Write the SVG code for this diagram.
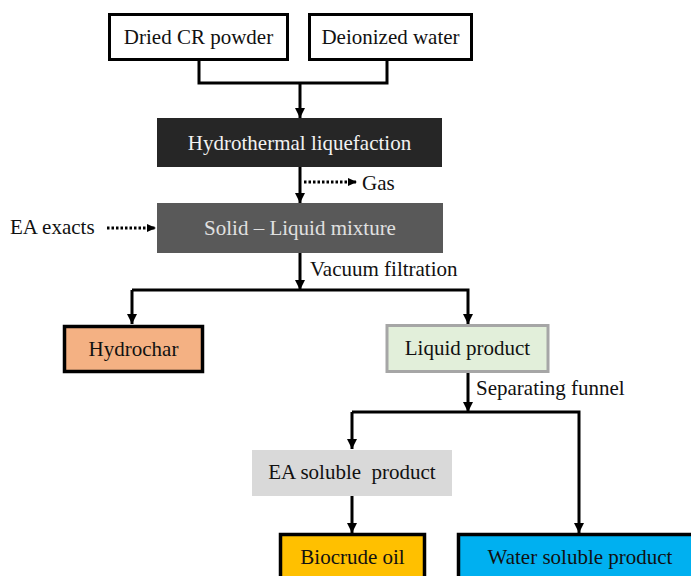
<svg xmlns="http://www.w3.org/2000/svg" width="691" height="576" viewBox="0 0 691 576">
  <style>
    text { font-family: "Liberation Serif", "Times New Roman", serif; font-size: 21px; fill: #111; }
    .c { text-anchor: middle; }
    .conn { fill: none; stroke: #000; stroke-width: 3; }
    .dot { fill: none; stroke: #000; stroke-width: 3; stroke-dasharray: 2.5 2; }
  </style>
  <defs>
    <marker id="ah" markerUnits="userSpaceOnUse" markerWidth="10" markerHeight="11" viewBox="0 0 10 11" refX="10" refY="5.5" orient="auto">
      <path d="M0,0.5 L10,5.5 L0,10.5 z" fill="#000"/>
    </marker>
    <marker id="ahs" markerUnits="userSpaceOnUse" markerWidth="9" markerHeight="9" viewBox="0 0 9 9" refX="9" refY="4.5" orient="auto">
      <path d="M0,0.5 L9,4.5 L0,8.5 z" fill="#000"/>
    </marker>
  </defs>

  <rect width="691" height="576" fill="#fff"/>

  <g id="connectors">
    <polyline class="conn" points="199,60 199,83 387,83 387,60"/>
    <line class="conn" x1="300" y1="83" x2="300" y2="118" marker-end="url(#ah)"/>
    <line class="conn" x1="300" y1="167" x2="300" y2="203" marker-end="url(#ah)"/>
    <line class="dot" x1="304" y1="182" x2="357" y2="182" marker-end="url(#ahs)"/>
    <line class="dot" x1="107" y1="228" x2="156" y2="228" marker-end="url(#ahs)"/>
    <line class="conn" x1="300" y1="253" x2="300" y2="290" marker-end="url(#ah)"/>
    <polyline class="conn" points="132,290 468,290 468,324" marker-end="url(#ah)"/>
    <line class="conn" x1="132" y1="290" x2="132" y2="324" marker-end="url(#ah)"/>
    <line class="conn" x1="468" y1="373" x2="468" y2="412" marker-end="url(#ah)"/>
    <polyline class="conn" points="352,412 579,412 579,533" marker-end="url(#ah)"/>
    <line class="conn" x1="352" y1="412" x2="352" y2="449" marker-end="url(#ah)"/>
    <line class="conn" x1="352" y1="496" x2="352" y2="533" marker-end="url(#ah)"/>
  </g>

  <g id="dried">
    <rect x="109.5" y="14.5" width="178" height="45" fill="#fff" stroke="#000" stroke-width="3"/>
    <text class="c" x="198.5" y="44">Dried CR powder</text>
  </g>
  <g id="water">
    <rect x="309.5" y="14.5" width="162" height="45" fill="#fff" stroke="#000" stroke-width="3"/>
    <text class="c" x="390.5" y="44">Deionized water</text>
  </g>
  <g id="htl">
    <rect x="157" y="118" width="285" height="49" fill="#262626"/>
    <text class="c" x="299.5" y="150" style="fill:#f2f2f2">Hydrothermal liquefaction</text>
  </g>
  <g id="gas">
    <text x="362" y="190">Gas</text>
  </g>
  <g id="ea-exacts">
    <text x="10" y="234">EA exacts</text>
  </g>
  <g id="solid-liquid">
    <rect x="157" y="203" width="286" height="50" fill="#595959"/>
    <text class="c" x="300" y="235" style="fill:#e0e0e0">Solid – Liquid mixture</text>
  </g>
  <g id="vacuum">
    <text x="310" y="276">Vacuum filtration</text>
  </g>
  <g id="hydrochar">
    <rect x="64.5" y="326.5" width="138" height="45" fill="#F4B183" stroke="#000" stroke-width="3.5"/>
    <text class="c" x="133.5" y="356">Hydrochar</text>
  </g>
  <g id="liquid">
    <rect x="387" y="325.5" width="161" height="46" fill="#E2EFDA" stroke="#A6A6A6" stroke-width="3"/>
    <text class="c" x="467.5" y="355">Liquid product</text>
  </g>
  <g id="separating">
    <text x="476" y="395">Separating funnel</text>
  </g>
  <g id="ea-soluble">
    <rect x="252" y="450" width="200" height="46" fill="#D9D9D9"/>
    <text class="c" x="352" y="479" xml:space="preserve">EA soluble  product</text>
  </g>
  <g id="biocrude">
    <rect x="280.5" y="534.5" width="144" height="60" fill="#FFC000" stroke="#000" stroke-width="3.5"/>
    <text class="c" x="352.5" y="564">Biocrude oil</text>
  </g>
  <g id="water-soluble">
    <rect x="458.5" y="534.5" width="250" height="60" fill="#00B0F0" stroke="#000" stroke-width="3.5"/>
    <text class="c" x="580" y="564">Water soluble product</text>
  </g>
</svg>
